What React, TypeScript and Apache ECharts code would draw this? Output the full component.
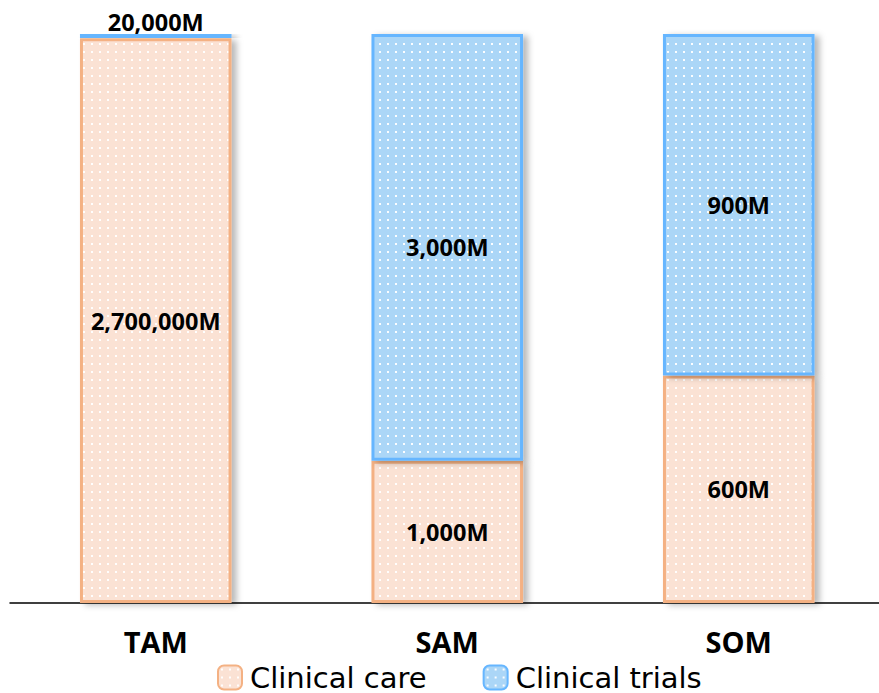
import React, { useEffect, useRef } from "react";
import * as echarts from "echarts";

const categories = ["TAM", "SAM", "SOM"];
const seriesNames = ["Clinical care", "Clinical trials"];
const clinicalCare = [2700000, 1000, 600];
const clinicalTrials = [20000, 3000, 900];

const fmt = (v: number) => v.toLocaleString("en-US") + "M";

function dotPattern(bg: string) {
  const c = document.createElement("canvas");
  c.width = 8;
  c.height = 8;
  const ctx = c.getContext("2d")!;
  ctx.fillStyle = bg;
  ctx.fillRect(0, 0, 8, 8);
  ctx.fillStyle = "rgba(255,255,255,0.95)";
  ctx.fillRect(3, 3, 2, 2);
  return { image: c.toDataURL(), repeat: "repeat" };
}

export default function App() {
  const ref = useRef<HTMLDivElement>(null);
  useEffect(() => {
    document.body.style.margin = "0";
    if (!ref.current) return;
    const chart = echarts.init(ref.current, undefined, { renderer: "svg" });
    const totals = categories.map((_, i) => clinicalCare[i] + clinicalTrials[i]);
    const carePct = clinicalCare.map((v, i) => (v / totals[i]) * 100);
    const trialPct = clinicalTrials.map((v, i) => (v / totals[i]) * 100);
    const font = "'Open Sans', sans-serif";
    const shadow = {
      shadowColor: "rgba(0,0,0,0.28)",
      shadowBlur: 6,
      shadowOffsetX: 5,
      shadowOffsetY: 2,
    };
    const careFill = dotPattern("#FBE2D4");
    const trialFill = dotPattern("#ABD6F7");
    chart.setOption({
      animation: false,
      grid: { left: 10, top: 34, bottom: 90, width: 874.5, containLabel: false },
      xAxis: {
        type: "category",
        data: categories,
        axisLine: { show: true, lineStyle: { color: "#000", width: 1.5 } },
        axisTick: { show: false },
        axisLabel: {
          margin: 24,
          fontFamily: font,
          fontWeight: "bold",
          fontSize: 29,
          color: "#000",
        },
      },
      yAxis: { type: "value", min: 0, max: 100, show: false, splitLine: { show: false } },
      legend: {
        data: seriesNames,
        left: 217,
        top: 663,
        padding: 0,
        itemWidth: 24,
        itemHeight: 24,
        itemGap: 56,
        textStyle: {
          fontFamily: "'DejaVu Sans', sans-serif",
          fontSize: 29,
          lineHeight: 26,
          color: "#000",
          padding: [0, 0, 0, 3],
        },
      },
      series: [
        {
          name: seriesNames[0],
          type: "bar",
          stack: "a",
          barWidth: "52%",
          data: carePct,
          itemStyle: {
            color: careFill,
            borderColor: "#F4B183",
            borderWidth: 3,
            ...shadow,
          },
          label: {
            show: true,
            position: "inside",
            formatter: (p: any) => fmt(clinicalCare[p.dataIndex]),
            fontFamily: font,
            fontWeight: "bold",
            fontSize: 23.5,
            color: "#000",
          },
        },
        {
          name: seriesNames[1],
          type: "bar",
          stack: "a",
          barWidth: "52%",
          data: trialPct.map((v, i) =>
            i === 0 ? { value: v, label: { position: "top", distance: 0 } } : { value: v }
          ),
          itemStyle: {
            color: trialFill,
            borderColor: "#66B6FF",
            borderWidth: 3,
            ...shadow,
          },
          label: {
            show: true,
            position: "inside",
            formatter: (p: any) => fmt(clinicalTrials[p.dataIndex]),
            fontFamily: font,
            fontWeight: "bold",
            fontSize: 23.5,
            color: "#000",
          },
        },
      ],
    });
    return () => chart.dispose();
  }, []);
  return (
    <div style={{ width: 879, height: 693, overflow: "hidden" }}>
      <div ref={ref} style={{ width: 890, height: 693 }} />
    </div>
  );
}
